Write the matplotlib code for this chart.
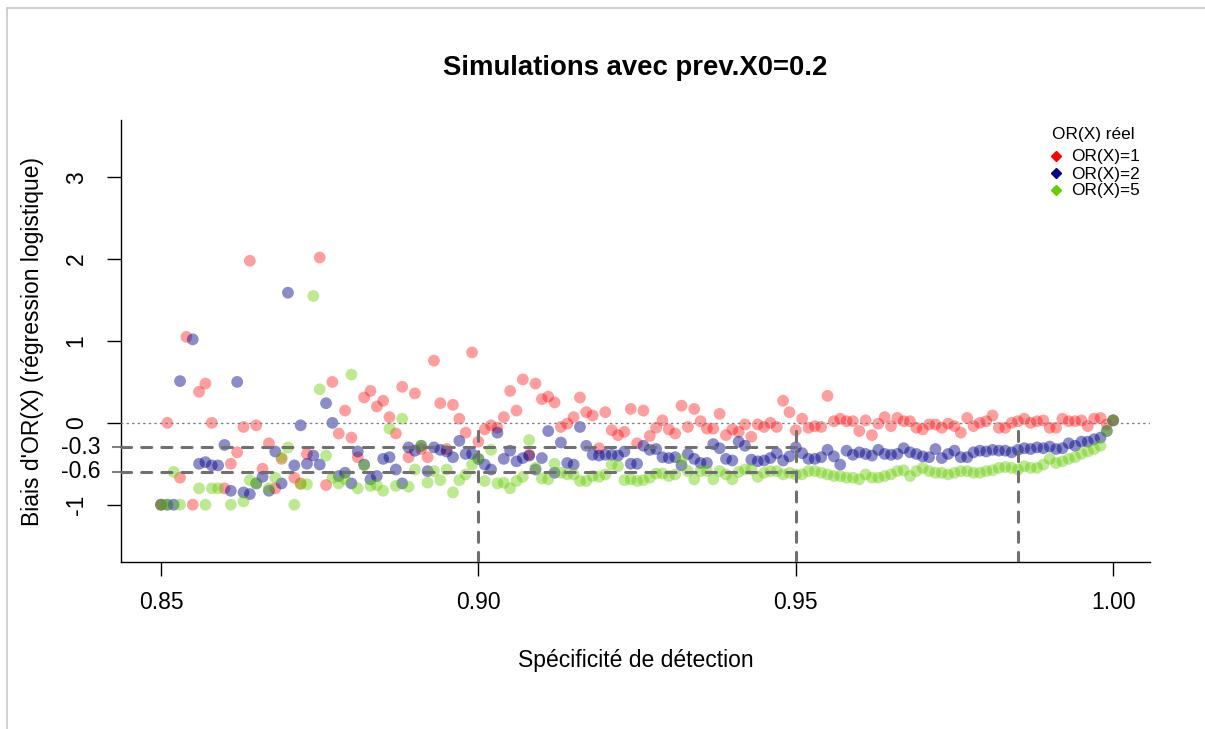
import numpy as np
import matplotlib
matplotlib.use("Agg")
import matplotlib.pyplot as plt
from matplotlib.lines import Line2D

plt.rcParams['font.family'] = ['Liberation Sans', 'DejaVu Sans']

nan = np.nan

# Specificity grid (0.85 -> 1.00 by 0.001)
specificite = np.linspace(0.85, 1.00, 151)

# Bias of OR(X), true OR(X)=1
biais_or1 = np.array([
    -1.00, 0.00, nan, -0.67, 1.05, -1.00, 0.38, 0.48, 0.00, nan,
    -0.80, -0.50, -0.36, -0.05, 1.98, -0.03, -0.56, -0.25, -0.80, -0.44,
    nan, -0.67, -0.74, -0.38, nan, 2.02, -0.76, 0.50, -0.13, 0.15,
    -0.18, -0.42, 0.31, 0.39, 0.20, 0.27, 0.07, -0.13, 0.44, -0.42,
    0.36, -0.32, -0.42, 0.76, 0.24, -0.32, 0.22, 0.05, -0.12, 0.86,
    -0.23, -0.08, -0.03, -0.06, 0.07, 0.39, 0.15, 0.53, -0.39, 0.48,
    0.29, 0.32, 0.25, -0.05, -0.01, 0.07, 0.31, 0.13, 0.09, -0.31,
    0.13, -0.09, -0.15, -0.11, 0.17, -0.25, 0.15, -0.16, -0.06, 0.03,
    -0.08, -0.13, 0.21, -0.05, 0.17, 0.02, -0.07, -0.07, 0.11, -0.15,
    -0.08, -0.11, -0.02, -0.17, -0.02, -0.05, 0.00, -0.05, 0.27, 0.13,
    -0.09, 0.05, -0.06, -0.04, -0.05, 0.33, 0.02, 0.05, 0.02, 0.02,
    -0.10, 0.03, -0.15, -0.01, 0.07, -0.04, 0.06, 0.02, 0.02, -0.06,
    -0.08, -0.02, -0.02, -0.06, -0.01, -0.04, -0.12, 0.06, -0.04, 0.00,
    0.02, 0.09, -0.06, -0.06, 0.00, 0.02, 0.05, 0.00, 0.02, 0.03,
    -0.06, -0.06, 0.05, 0.02, 0.02, 0.03, -0.04, 0.05, 0.06, -0.02,
    0.03])

# Bias of OR(X), true OR(X)=2
biais_or2 = np.array([
    -1.00, -1.00, -1.00, 0.51, nan, 1.02, -0.50, -0.48, -0.52, -0.52,
    -0.27, -0.83, 0.50, -0.85, -0.87, -0.74, -0.66, -0.83, -0.35, -0.74,
    1.59, -0.52, -0.03, -0.50, -0.40, -0.51, 0.24, 0.00, -0.65, -0.61,
    -0.74, -0.35, -0.51, -0.69, -0.65, -0.44, -0.42, -0.57, -0.74, -0.30,
    -0.34, -0.28, -0.59, -0.30, -0.33, -0.35, -0.42, -0.22, -0.38, -0.38,
    -0.44, -0.51, -0.57, -0.12, -0.44, -0.34, -0.47, -0.43, -0.40, -0.57,
    -0.43, -0.10, -0.61, -0.24, -0.49, -0.51, -0.05, -0.28, -0.39, -0.40,
    -0.39, -0.39, -0.40, -0.35, -0.50, -0.50, -0.28, -0.33, -0.32, -0.42,
    -0.43, -0.42, -0.52, -0.38, -0.44, -0.49, -0.49, -0.26, -0.31, -0.44,
    -0.46, -0.23, -0.28, -0.45, -0.47, -0.46, -0.43, -0.37, -0.46, -0.41,
    -0.30, -0.37, -0.44, -0.44, -0.42, -0.33, -0.41, -0.51, -0.34, -0.39,
    -0.36, -0.38, -0.40, -0.33, -0.38, -0.39, -0.38, -0.31, -0.36, -0.38,
    -0.41, -0.42, -0.32, -0.43, -0.38, -0.34, -0.42, -0.42, -0.36, -0.34,
    -0.35, -0.33, -0.34, -0.34, -0.36, -0.33, -0.31, -0.32, -0.30, -0.31,
    -0.29, -0.32, -0.31, -0.25, -0.28, -0.23, -0.23, -0.20, -0.18, -0.10,
    0.03])

# Bias of OR(X), true OR(X)=5
biais_or5 = np.array([
    -1.00, -1.00, -0.60, -1.00, nan, nan, -0.80, -1.00, -0.80, -0.80,
    nan, -1.00, nan, -0.96, -0.70, -0.74, nan, -0.80, -0.67, -0.42,
    -0.30, -1.00, -0.75, -0.75, 1.55, 0.41, -0.40, -0.67, -0.74, -0.69,
    0.59, -0.80, -0.52, -0.77, -0.76, -0.83, -0.07, -0.77, 0.05, -0.78,
    -0.57, -0.28, -0.73, -0.59, -0.70, -0.57, -0.85, -0.70, -0.63, -0.51,
    -0.44, -0.71, -0.33, -0.74, -0.73, -0.80, -0.71, -0.66, -0.21, -0.55,
    -0.68, -0.69, -0.50, -0.61, -0.63, -0.63, -0.71, -0.71, -0.65, -0.66,
    -0.63, -0.51, -0.53, -0.70, -0.69, -0.71, -0.70, -0.67, -0.62, -0.62,
    -0.65, -0.63, -0.45, -0.59, -0.69, -0.59, -0.59, -0.69, -0.59, -0.63,
    -0.69, -0.60, -0.57, -0.57, -0.66, -0.61, -0.59, -0.59, -0.63, -0.61,
    -0.63, -0.63, -0.59, -0.59, -0.61, -0.63, -0.65, -0.65, -0.67, -0.67,
    -0.69, -0.63, -0.67, -0.67, -0.65, -0.63, -0.59, -0.58, -0.65, -0.59,
    -0.55, -0.59, -0.61, -0.61, -0.63, -0.61, -0.59, -0.59, -0.61, -0.61,
    -0.59, -0.58, -0.55, -0.54, -0.55, -0.57, -0.53, -0.55, -0.55, -0.51,
    -0.44, -0.49, -0.47, -0.44, -0.42, -0.38, -0.35, -0.32, -0.28, -0.10,
    0.03])

series_labels = ["OR(X)=1", "OR(X)=2", "OR(X)=5"]
x_ticks = [0.85, 0.90, 0.95, 1.00]
x_ticklabels = ["0.85", "0.90", "0.95", "1.00"]
y_ticks = [-1, 0, 1, 2, 3]
y_ticklabels = ["-1", "0", "1", "2", "3"]
ref_levels = [-0.3, -0.6]
ref_labels = ["-0.3", "-0.6"]
vert_lines = [0.90, 0.95, 0.985]

W, H = 1205, 729
fig = plt.figure(figsize=(W / 100, H / 100), dpi=100)
fig.patch.set_facecolor('white')
ax = fig.add_axes([121 / W, 1 - 562 / H, (1150 - 121) / W, (562 - 120) / H])

point_cols = ['#FF0000', '#00008B', '#66CD00']
point_alpha = [0.38, 0.45, 0.43]
for ys, col, a in zip([biais_or1, biais_or2, biais_or5], point_cols, point_alpha):
    ax.scatter(specificite, ys, s=72, color=col, alpha=a, edgecolors='none', zorder=2)

ax.set_xlim(0.8437, 1.0058)
ax.set_ylim(-1.7, 3.7)

# reference lines
ax.axhline(0, color='#808080', lw=1.0, linestyle=(0, (1, 3)), dash_capstyle='round', zorder=4)
for lv in ref_levels:
    ax.plot([0.8437, 0.95], [lv, lv], color='#707070', lw=2.2,
            linestyle=(0, (3.3, 3.3)), dash_capstyle='round', zorder=4)
for xv in vert_lines:
    ax.plot([xv, xv], [-1.7, 0], color='#707070', lw=2.2,
            linestyle=(0, (3.3, 3.3)), dash_capstyle='round', zorder=4, clip_on=True)

for s in ['top', 'right']:
    ax.spines[s].set_visible(False)
for s in ['left', 'bottom']:
    ax.spines[s].set_linewidth(1.0)

ax.set_xticks(x_ticks, labels=x_ticklabels)
ax.set_yticks(y_ticks, labels=y_ticklabels)
ax.set_yticks(ref_levels, labels=ref_labels, minor=True)
ax.xaxis.set_minor_locator(matplotlib.ticker.NullLocator())

ax.tick_params(axis='both', which='major', length=10, width=1.0, labelsize=16.5, direction='out')
ax.tick_params(axis='x', which='major', pad=11)
ax.tick_params(axis='y', which='major', pad=14, labelrotation=90)
ax.tick_params(axis='y', which='minor', length=6.5, width=1.5, color='#808080',
               labelsize=16.5, pad=8.5, labelrotation=0)
for lab in ax.get_yticklabels():
    lab.set_va('center')
for lab in ax.get_yticklabels(minor=True):
    lab.set_va('center')

ax.set_xlabel("Spécificité de détection", fontsize=16.5, va='center')
ax.xaxis.set_label_coords(0.5, (562 - 660) / 442)
ax.set_ylabel("Biais d'OR(X) (régression logistique)", fontsize=16.5, va='center')
ax.yaxis.set_label_coords((33 - 121) / 1029, 0.5)

fig.text(635.5 / W, 1 - 68 / H, "Simulations avec prev.X0=0.2", fontsize=19.8,
         fontweight='bold', ha='center', va='center')

# legend (no box)
leg_cols = ['#FF0000', '#00008B', '#66CD00']
fig.text(1093 / W, 1 - 134 / H, "OR(X) réel", fontsize=12.4, ha='center', va='center')
rows_y = [156, 173, 190]
for lab, col, yy in zip(series_labels, leg_cols, rows_y):
    fig.add_artist(Line2D([1056 / W], [1 - yy / H], marker='D', ms=5.5, color=col,
                          linestyle='none', transform=fig.transFigure))
    fig.text(1071 / W, 1 - (yy + 1) / H, lab, fontsize=12.4, ha='left', va='center')

# screenshot border
fig.add_artist(Line2D([7.5 / W, 1], [1 - 7.5 / H, 1 - 7.5 / H], color='#c8c8c8', lw=1.2,
                      transform=fig.transFigure))
fig.add_artist(Line2D([7.5 / W, 7.5 / W], [0, 1 - 7.5 / H], color='#c8c8c8', lw=1.2,
                      transform=fig.transFigure))

fig.savefig("out.png", dpi=100)
